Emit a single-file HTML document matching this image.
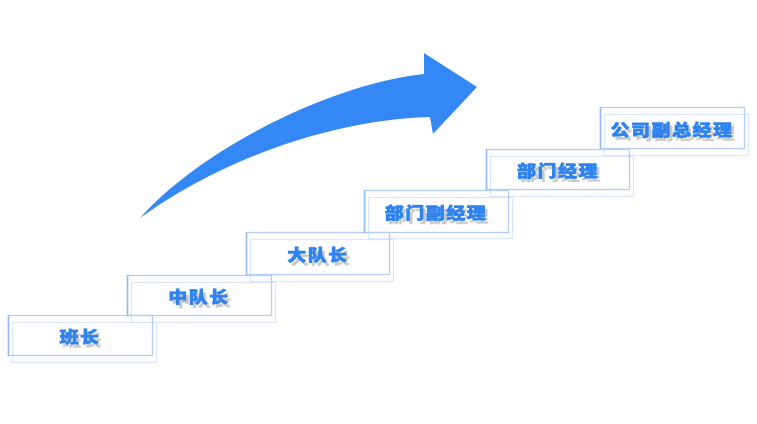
<!DOCTYPE html>
<html><head><meta charset="utf-8"><style>
html,body{margin:0;padding:0;background:#fff;}
#c{position:relative;width:757px;height:424px;overflow:hidden;background:#fff;}
svg{position:absolute;left:0;top:0;}
.t{position:absolute;height:40px;width:144px;display:flex;align-items:center;justify-content:center;
font-family:"Liberation Sans","Noto Sans CJK SC",sans-serif;font-weight:900;font-size:19px;letter-spacing:1.5px;
color:#2f83f0;-webkit-text-stroke:0.7px #2f83f0;text-shadow:3px 4px 1px rgba(110,110,110,0.4);white-space:nowrap;}
.t span{display:inline-block;transform:scaleY(0.86);}
</style></head><body><div id="c">
<svg width="757" height="424" viewBox="0 0 757 424">
<path d="M140,218 C200,150 330,84 424,74 L424,53 L477,87 L433,134 L430,117 C330,120 220,160 140,218 Z" fill="#3388f5"/>
<g fill="none" stroke="#d9e6fc" stroke-width="1.2">
<rect x="12.5" y="322.5" width="144" height="40"/>
<rect x="131.5" y="282.5" width="144" height="40"/>
<rect x="250.5" y="239.5" width="143" height="42"/>
<rect x="368.5" y="197.5" width="144" height="41"/>
<rect x="490.5" y="156.5" width="143" height="40"/>
<rect x="604.5" y="114.5" width="144" height="41"/>
</g>
<g fill="none" stroke="#b3cff8" stroke-width="1.3">
<rect x="8.5" y="315.5" width="144" height="40"/>
<rect x="127.5" y="275.5" width="144" height="40"/>
<rect x="246.5" y="232.5" width="143" height="42"/>
<rect x="364.5" y="190.5" width="144" height="42"/>
<rect x="486.5" y="149.5" width="143" height="40"/>
<rect x="600.5" y="107.5" width="144" height="41"/>
</g>
<g stroke="#93bbf5" stroke-width="1.6">
<line x1="8.5" y1="315" x2="8.5" y2="356"/>
<line x1="127.5" y1="275" x2="127.5" y2="316"/>
<line x1="246.5" y1="232" x2="246.5" y2="275"/>
<line x1="364.5" y1="190" x2="364.5" y2="233"/>
<line x1="486.5" y1="149" x2="486.5" y2="190"/>
<line x1="600.5" y1="107" x2="600.5" y2="149"/>
</g>
</svg>
<div class="t" style="left:8px;top:316px;"><span>班长</span></div>
<div class="t" style="left:127px;top:276px;"><span>中队长</span></div>
<div class="t" style="left:246px;top:234px;"><span>大队长</span></div>
<div class="t" style="left:364px;top:192px;"><span>部门副经理</span></div>
<div class="t" style="left:486px;top:150px;"><span>部门经理</span></div>
<div class="t" style="left:600px;top:109px;"><span>公司副总经理</span></div>
</div></body></html>
